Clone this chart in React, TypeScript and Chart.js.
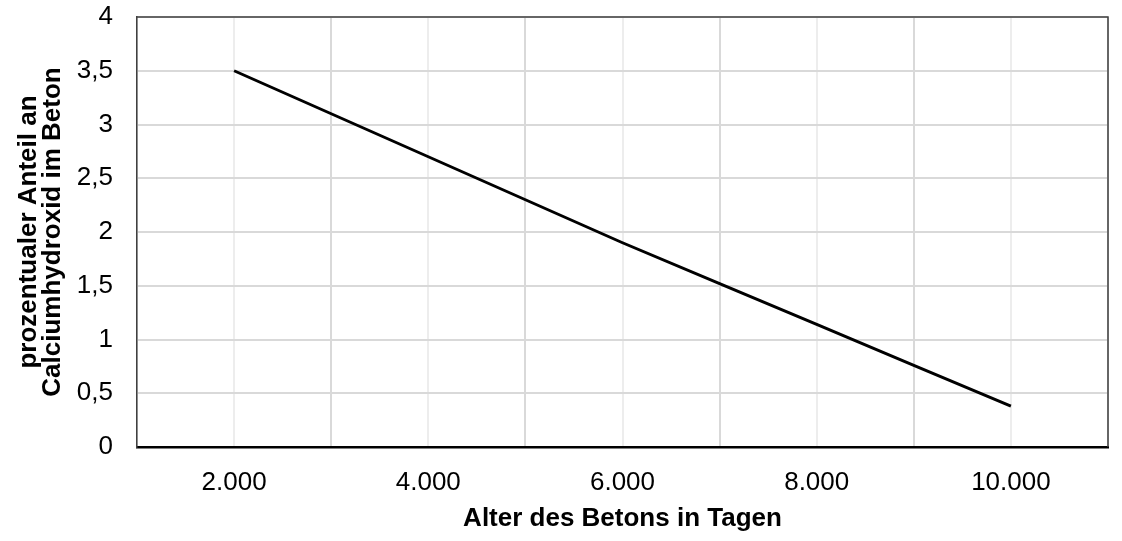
import React, { useEffect, useRef } from "react";
import { Chart, registerables } from "chart.js";

Chart.register(...registerables);

const xValues = [2000, 3000, 4000, 5000, 6000, 7000, 8000, 9000, 10000];
const yValues = [3.5, 3.1, 2.7, 2.3, 1.9, 1.52, 1.14, 0.76, 0.38];

const xTickValues = [2000, 4000, 6000, 8000, 10000];
const xTickLabels = ["2.000", "4.000", "6.000", "8.000", "10.000"];
const yTickValues = [0, 0.5, 1, 1.5, 2, 2.5, 3, 3.5, 4];
const yTickLabels = ["0", "0,5", "1", "1,5", "2", "2,5", "3", "3,5", "4"];

const xTitle = "Alter des Betons in Tagen";
const yTitle = ["prozentualer Anteil an", "Calciumhydroxid im Beton"];

const FONT = "'Liberation Sans', Arial, Helvetica, sans-serif";

const framePlugin = {
  id: "frame",
  afterDraw(chart: any) {
    const { ctx, chartArea } = chart;
    ctx.save();
    ctx.strokeStyle = "#404040";
    ctx.lineWidth = 1.5;
    ctx.beginPath();
    ctx.moveTo(chartArea.left, chartArea.top);
    ctx.lineTo(chartArea.right, chartArea.top);
    ctx.lineTo(chartArea.right, chartArea.bottom);
    ctx.stroke();
    ctx.restore();
  },
};

export default function App() {
  const ref = useRef<HTMLCanvasElement>(null);

  useEffect(() => {
    if (!ref.current) return;
    const chart = new Chart(ref.current, {
      type: "line",
      data: {
        datasets: [
          {
            data: xValues.map((x, i) => ({ x, y: yValues[i] })),
            borderColor: "#000000",
            borderWidth: 3,
            pointRadius: 0,
            tension: 0,
            fill: false,
          },
        ],
      },
      options: {
        animation: false,
        responsive: false,
        devicePixelRatio: 1,
        layout: { padding: { top: 17, right: 14, left: 0, bottom: 0 } },
        plugins: {
          legend: { display: false },
          tooltip: { enabled: false },
        },
        scales: {
          x: {
            type: "linear",
            min: 1000,
            max: 11000,
            afterFit: (s: any) => {
              s.height = 94;
              s.paddingLeft = 0;
              s.paddingRight = 0;
            },
            ticks: {
              stepSize: 1000,
              autoSkip: false,
              maxRotation: 0,
              padding: 20,
              color: "#000",
              font: { family: FONT, size: 26 },
              callback: (v: any) => {
                const i = xTickValues.indexOf(Number(v));
                return i >= 0 ? xTickLabels[i] : "";
              },
            },
            grid: {
              drawTicks: false,
              lineWidth: 2,
              color: (c: any) =>
                c.tick && c.tick.value % 2000 === 0 ? "#ededed" : "#d9d9d9",
            },
            border: { color: "#000", width: 2.5 },
            title: {
              display: true,
              text: xTitle,
              color: "#000",
              font: { family: FONT, size: 26, weight: "bold", lineHeight: "24px" },
              padding: { top: 0, bottom: 10 },
            },
          },
          y: {
            type: "linear",
            min: 0,
            max: 4,
            afterFit: (s: any) => {
              s.width = 137;
              s.paddingTop = 0;
              s.paddingBottom = 0;
            },
            ticks: {
              stepSize: 0.5,
              padding: 24,
              color: "#000",
              font: { family: FONT, size: 26 },
              callback: (v: any) => {
                const i = yTickValues.indexOf(Number(v));
                return i >= 0 ? yTickLabels[i] : "";
              },
            },
            grid: {
              drawTicks: false,
              lineWidth: 2,
              color: "#d9d9d9",
            },
            border: { color: "#404040", width: 1.5 },
            title: {
              display: true,
              text: yTitle,
              color: "#000",
              font: { family: FONT, size: 26, weight: "bold", lineHeight: "24px" },
              padding: { top: 17, bottom: 0 },
            },
          },
        },
      },
      plugins: [framePlugin],
    } as any);
    return () => chart.destroy();
  }, []);

  return (
    <div
      style={{
        position: "absolute",
        left: 0,
        top: 0,
        width: 1122,
        height: 541,
        background: "#fff",
      }}
    >
      <canvas ref={ref} width={1122} height={541} />
    </div>
  );
}
